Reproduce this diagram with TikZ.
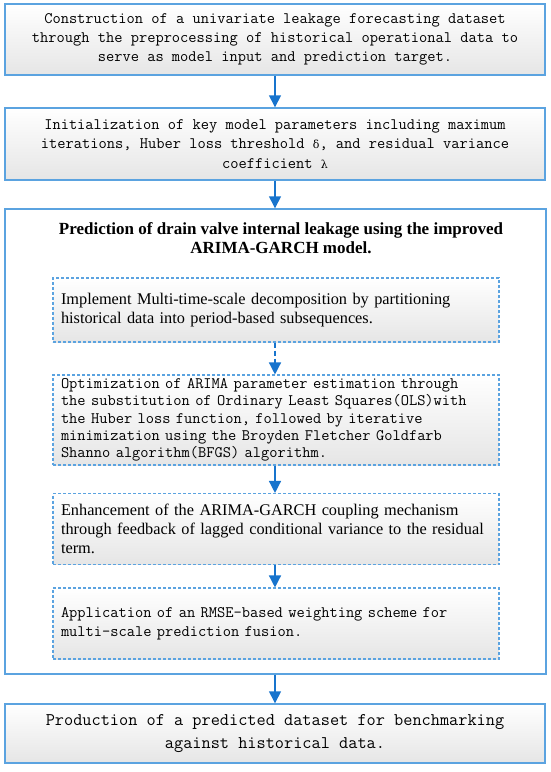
\documentclass[tikz,border=0pt]{standalone}
\usepackage{fontspec}
\setmainfont{Liberation Serif}
\usetikzlibrary{arrows.meta}
\definecolor{bordblue}{HTML}{5BA3E0}
\definecolor{arrblue}{HTML}{1874CD}
\newcommand{\grk}[1]{{\fontspec{DejaVu Serif}\fontsize{11}{12}\selectfont #1}}
\begin{document}
\begin{tikzpicture}[x=1pt,y=1pt,
  solidbox/.style={draw=bordblue,line width=1.4pt,top color=white,bottom color=black!10,
    minimum width=540pt,inner sep=0pt,align=center},
  dashbox/.style={draw=bordblue,line width=1.1pt,dash pattern=on 3pt off 2pt,top color=white,bottom color=black!10,
    minimum width=446pt,inner sep=0pt,align=left,text width=430pt},
  flow/.style={draw=arrblue,line width=1.4pt,-{Triangle[length=12pt,width=12pt]}},
  dflow/.style={flow,dash pattern=on 5pt off 3pt},
  monotext/.style={font=\ttfamily\fontsize{16}{19.2}\selectfont},
  monotight/.style={font=\ttfamily\fontsize{16}{17.4}\selectfont},
  serftext/.style={font=\fontsize{16.3}{19.3}\selectfont}]
\useasboundingbox (0,0) rectangle (550,-772);
\node[solidbox,minimum height=71pt,monotext] (b1) at (275,-39.5)
  {Construction of a univariate leakage forecasting dataset\\through the preprocessing of historical operational data to\\serve as model input and prediction target.};
\node[solidbox,minimum height=72pt,monotext] (b2) at (275,-144)
  {Initialization of key model parameters including maximum\\iterations, Huber loss threshold \grk{δ}, and residual variance\\coefficient \grk{λ}};
\node[draw=bordblue,line width=1.4pt,fill=white,minimum width=541pt,minimum height=465pt,inner sep=0pt] (outer) at (275.5,-441.5) {};
\node[font=\bfseries\fontsize{17}{19.5}\selectfont,align=center] (title) at (281,-238)
  {Prediction of drain valve internal leakage using the improved\\ARIMA-GARCH model.};
\node[dashbox,minimum height=64pt,serftext] (i1) at (276,-310)
  {Implement Multi-time-scale decomposition by partitioning\\historical data into period-based subsequences.};
\node[dashbox,minimum height=90pt,monotight] (i2) at (276,-420)
  {Optimization of ARIMA parameter estimation through\\the substitution of Ordinary Least Squares(OLS)with\\the Huber loss function, followed by iterative\\minimization using the Broyden Fletcher Goldfarb\\Shanno algorithm(BFGS) algorithm.};
\node[dashbox,minimum height=71pt,serftext] (i3) at (276,-529)
  {Enhancement of the ARIMA-GARCH coupling mechanism\\through feedback of lagged conditional variance to the residual\\term.};
\node[dashbox,minimum height=71pt,monotext] (i4) at (276,-623.5)
  {Application of an RMSE-based weighting scheme for\\multi-scale prediction fusion.};
\node[solidbox,minimum height=59pt,font=\ttfamily\fontsize{17.8}{23}\selectfont] (b3) at (275,-733.5)
  {Production of a predicted dataset for benchmarking\\against historical data.};
\draw[flow] (b1.south) -- (b2.north);
\draw[flow] (b2.south) -- (outer.north -| b2.south);
\draw[dflow] (i1.south -| b2.south) -- (i2.north -| b2.south);
\draw[flow] (i2.south -| b2.south) -- (i3.north -| b2.south);
\draw[flow] (i3.south -| b2.south) -- (i4.north -| b2.south);
\draw[flow] (outer.south -| b2.south) -- (b3.north);
\end{tikzpicture}
\end{document}
